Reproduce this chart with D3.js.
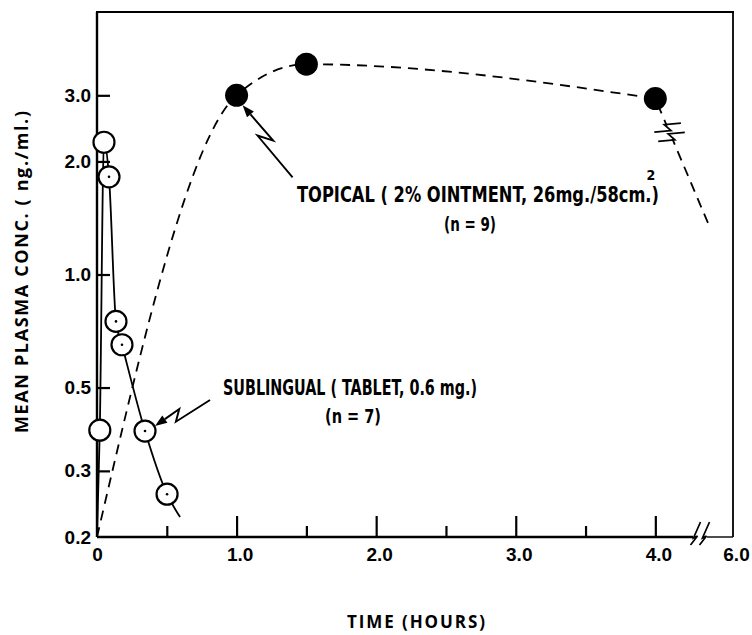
<!DOCTYPE html>
<html>
<head>
<meta charset="utf-8">
<script src="https://cdn.jsdelivr.net/npm/d3@7/dist/d3.min.js"></script>
<style>
  html, body { margin: 0; padding: 0; background: #fff; }
  svg { display: block; }
</style>
</head>
<body>
<svg id="chart" width="752" height="635"></svg>
<script>
// ---------------- DATA ----------------
// Topical (2% ointment) - filled circles
const topicalTime = [1.0, 1.5, 4.0];
const topicalConc = [3.0, 3.63, 2.94];
const topicalStart = [0, 0.2];      // curve origin
const topicalEnd = [4.73, 1.37];    // curve continues past the axis break

// Sublingual (tablet 0.6 mg) - open circles
const sublingualTime = [0.02, 0.05, 0.086, 0.136, 0.179, 0.344, 0.502];
const sublingualConc = [0.385, 2.25, 1.82, 0.75, 0.65, 0.383, 0.26];
const sublingualDotted = [false, false, true, true, true, true, true];
const sublingualStart = [0, 0.2];
const sublingualEnd = [0.595, 0.226];

// Axis ticks
const xTicks = [0, 0.5, 1, 1.5, 2, 2.5, 3, 3.5, 4, 6];
const xTickLabels = ["0", "", "1.0", "", "2.0", "", "3.0", "", "4.0", "6.0"];
const xMajor = [1, 2, 3, 4];
const yTicks = [0.2, 0.3, 0.5, 1, 2, 3];
const yTickLabels = ["0.2", "0.3", "0.5", "1.0", "2.0", "3.0"];

const xTitle = "TIME (HOURS)";
const yTitle = "MEAN PLASMA CONC. ( ng./ml.)";
const topicalLabel = "TOPICAL ( 2% OINTMENT, 26mg./58cm.)";
const topicalSup = "2";
const topicalN = "(n = 9)";
const sublingualLabel = "SUBLINGUAL ( TABLET, 0.6 mg.)";
const sublingualN = "(n = 7)";

// ---------------- LAYOUT ----------------
const L = 97, R = 733, T = 12, B = 537;
const xBreak = 4.32;
const x = d3.scaleLinear().domain([0, xBreak, 6]).range([L, 700, R]);
const y = d3.scaleLog().domain([0.2, 5]).range([B, T]);

const svg = d3.select("#chart");
const tickFont = "'Liberation Sans', Arial, sans-serif";
const condFont = "'Liberation Sans Narrow', 'DejaVu Sans Condensed', 'Liberation Sans', sans-serif";
const titleFont = "'Open Sans', 'Lato', sans-serif";

// ---------------- FRAME ----------------
const frame = svg.append("g").attr("stroke", "#000").attr("fill", "none");
frame.append("line").attr("x1", L).attr("x2", L).attr("y1", T).attr("y2", B).attr("stroke-width", 2.4);
frame.append("line").attr("x1", L - 1).attr("x2", R + 1).attr("y1", T).attr("y2", T).attr("stroke-width", 2.2);
frame.append("line").attr("x1", R).attr("x2", R).attr("y1", T).attr("y2", B).attr("stroke-width", 1.8);
// bottom axis line with break
frame.append("line").attr("x1", L).attr("x2", x(xBreak) - 7).attr("y1", B).attr("y2", B).attr("stroke-width", 2.4);
frame.append("line").attr("x1", x(xBreak) + 7).attr("x2", R).attr("y1", B).attr("y2", B).attr("stroke-width", 1.4);
// x-axis break mark
[-4.5, 4.5].forEach(o => {
  const cx = x(xBreak) + o;
  frame.append("path")
    .attr("d", d3.line()([[cx + 5, B - 15], [cx - 2, B + 1], [cx + 2, B - 1], [cx - 5, B + 8]]))
    .attr("stroke-width", 1.7);
});

// ---------------- AXES ----------------
const xAxis = d3.axisBottom(x)
  .tickValues(xTicks)
  .tickFormat((d, i) => xTickLabels[i])
  .tickSizeInner(-20).tickSizeOuter(0).tickPadding(11);
const gx = svg.append("g").attr("transform", `translate(0,${B})`).call(xAxis);
gx.select(".domain").remove();
gx.selectAll(".tick line")
  .attr("stroke-width", 2.2)
  .attr("y2", d => (d === 0 || d === 6) ? 0 : (xMajor.includes(d) ? -21 : -11));
gx.selectAll(".tick text")
  .attr("font-family", tickFont).attr("font-weight", "bold").attr("font-size", 19)
  .attr("fill", "#000")
  .attr("dx", d => (d === 0 ? 0 : 3));

const yAxis = d3.axisLeft(y)
  .tickValues(yTicks)
  .tickFormat((d, i) => yTickLabels[i])
  .tickSizeInner(-13).tickSizeOuter(0).tickPadding(6);
const gy = svg.append("g").attr("transform", `translate(${L},0)`).call(yAxis);
gy.select(".domain").remove();
gy.selectAll(".tick line")
  .attr("stroke-width", 2.2)
  .attr("x2", d => d === 0.2 ? 0 : 13);
gy.selectAll(".tick text")
  .attr("font-family", tickFont).attr("font-weight", "bold").attr("font-size", 19)
  .attr("fill", "#000");

// ---------------- TITLES ----------------
svg.append("text")
  .attr("x", 416).attr("y", 628)
  .attr("text-anchor", "middle")
  .attr("font-family", titleFont).attr("font-weight", "bold").attr("font-size", 17)
  .attr("textLength", 138).attr("lengthAdjust", "spacing")
  .text(xTitle);

svg.append("text")
  .attr("transform", "translate(28,272) rotate(-90)")
  .attr("text-anchor", "middle")
  .attr("font-family", titleFont).attr("font-weight", "bold").attr("font-size", 18)
  .attr("textLength", 322).attr("lengthAdjust", "spacing")
  .text(yTitle);

// ---------------- TOPICAL CURVE ----------------
const topicalPts = topicalTime.map((t, i) => [t, topicalConc[i]]);
const lineGen = d3.line().x(d => x(d[0])).y(d => y(d[1]));
svg.append("path")
  .attr("d", lineGen.curve(d3.curveMonotoneX)([topicalStart, ...topicalPts]))
  .attr("fill", "none").attr("stroke", "#000").attr("stroke-width", 1.8)
  .attr("stroke-dasharray", "10,7");
const lastT = topicalPts[topicalPts.length - 1];
svg.append("path")
  .attr("d", d3.line().x(d => x(d[0])).y(d => y(d[1]))([lastT, topicalEnd]))
  .attr("fill", "none").attr("stroke", "#000").attr("stroke-width", 1.8)
  .attr("stroke-dasharray", "10,7").attr("stroke-dashoffset", -6);

// break mark on the topical tail
(function () {
  const p0 = [x(lastT[0]), y(lastT[1])], p1 = [x(topicalEnd[0]), y(topicalEnd[1])];
  const dx = p1[0] - p0[0], dy = p1[1] - p0[1], len = Math.hypot(dx, dy);
  const d = [dx / len, dy / len], n = [-d[1], d[0]];
  const c = [p0[0] + dx * 0.27, p0[1] + dy * 0.27];
  const P = (a, b) => [c[0] + a * n[0] + b * d[0], c[1] + a * n[1] + b * d[1]];
  svg.append("path")
    .attr("d", d3.line()([P(0, -7), P(0, 7)]))
    .attr("stroke", "#fff").attr("stroke-width", 4);
  [-5, 5].forEach(o => {
    svg.append("path")
      .attr("d", d3.line()([P(-14, o + 1), P(2, o - 4), P(-2, o + 4), P(14, o - 1)]))
      .attr("fill", "none").attr("stroke", "#000").attr("stroke-width", 1.7);
  });
})();

// ---------------- SUBLINGUAL CURVE ----------------
const subPts = sublingualTime.map((t, i) => [t, sublingualConc[i]]);
svg.append("path")
  .attr("d", d3.line().x(d => x(d[0])).y(d => y(d[1])).curve(d3.curveMonotoneX)([sublingualStart, ...subPts, sublingualEnd]))
  .attr("fill", "none").attr("stroke", "#000").attr("stroke-width", 1.8);

// ---------------- MARKERS ----------------
svg.append("g").selectAll("circle").data(subPts).join("circle")
  .attr("cx", d => x(d[0])).attr("cy", d => y(d[1])).attr("r", 10.5)
  .attr("fill", "#fff").attr("stroke", "#000").attr("stroke-width", 2.2);
svg.append("g").selectAll("circle").data(subPts.filter((d, i) => sublingualDotted[i])).join("circle")
  .attr("cx", d => x(d[0])).attr("cy", d => y(d[1])).attr("r", 1.3).attr("fill", "#000");

svg.append("g").selectAll("circle").data(topicalPts).join("circle")
  .attr("cx", d => x(d[0])).attr("cy", d => y(d[1])).attr("r", 11.5)
  .attr("fill", "#000");

// ---------------- ANNOTATION ARROWS ----------------
function boltArrow(tail, head, tA, tB) {
  const dx = head[0] - tail[0], dy = head[1] - tail[1], len = Math.hypot(dx, dy);
  const u = [dx / len, dy / len], n = [-u[1], u[0]];
  const P = (t, o) => [tail[0] + dx * t + n[0] * o, tail[1] + dy * t + n[1] * o];
  const A = P(tA, -5), Bp = P(tB, 5);
  const tip = head;
  const vx = tip[0] - Bp[0], vy = tip[1] - Bp[1], vl = Math.hypot(vx, vy);
  const v = [vx / vl, vy / vl], nv = [-v[1], v[0]];
  const base = [tip[0] - v[0] * 12, tip[1] - v[1] * 12];
  svg.append("path")
    .attr("d", d3.line()([tail, A, Bp, base]))
    .attr("fill", "none").attr("stroke", "#000").attr("stroke-width", 1.9);
  svg.append("path")
    .attr("d", d3.line()([tip, [base[0] + nv[0] * 4.5, base[1] + nv[1] * 4.5], [base[0] - nv[0] * 4.5, base[1] - nv[1] * 4.5]]) + "Z")
    .attr("fill", "#000");
}
const tp = topicalPts[0];
boltArrow([x(tp[0]) + 56, y(tp[1]) + 82], [x(tp[0]) + 6, y(tp[1]) + 10], 0.62, 0.47);
const sp = subPts[5];
boltArrow([x(sp[0]) + 65, y(sp[1]) - 31], [x(sp[0]) + 10, y(sp[1]) - 5], 0.66, 0.52);

// ---------------- ANNOTATION TEXT ----------------
const tStart = 297, tLen = 362;
svg.append("text")
  .attr("x", tStart).attr("y", 202)
  .attr("font-family", condFont).attr("font-weight", "bold").attr("font-size", 21)
  .attr("textLength", tLen).attr("lengthAdjust", "spacingAndGlyphs")
  .text(topicalLabel);
svg.append("text")
  .attr("x", tStart + tLen - 8).attr("y", 180).attr("text-anchor", "middle")
  .attr("font-family", condFont).attr("font-weight", "bold").attr("font-size", 14)
  .text(topicalSup);

svg.append("text")
  .attr("x", 470).attr("y", 231).attr("text-anchor", "middle")
  .attr("font-family", condFont).attr("font-weight", "bold").attr("font-size", 19)
  .attr("textLength", 52).attr("lengthAdjust", "spacingAndGlyphs")
  .text(topicalN);

svg.append("text")
  .attr("x", 223).attr("y", 395)
  .attr("font-family", condFont).attr("font-weight", "bold").attr("font-size", 21)
  .attr("textLength", 254).attr("lengthAdjust", "spacingAndGlyphs")
  .text(sublingualLabel);

svg.append("text")
  .attr("x", 353).attr("y", 423).attr("text-anchor", "middle")
  .attr("font-family", condFont).attr("font-weight", "bold").attr("font-size", 19)
  .attr("textLength", 56).attr("lengthAdjust", "spacingAndGlyphs")
  .text(sublingualN);
</script>
</body>
</html>
